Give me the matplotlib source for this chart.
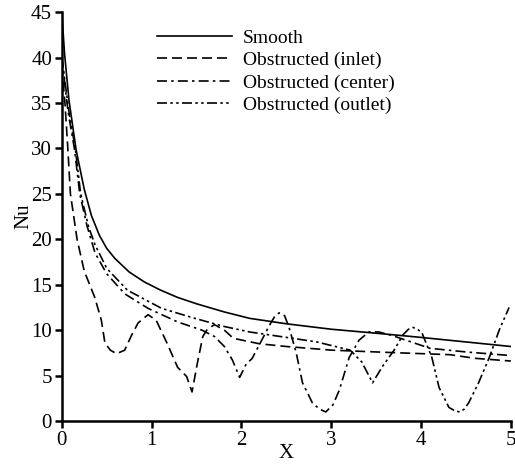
import matplotlib
matplotlib.use("Agg")
import matplotlib.pyplot as plt

plt.rcParams['font.family'] = ['Liberation Serif', 'DejaVu Serif']

# Smooth channel
x_smooth = [0, 0.03, 0.08, 0.16, 0.25, 0.33, 0.42, 0.5, 0.59, 0.75, 0.92, 1.1, 1.29, 1.5,
            1.81, 2.09, 2.5, 3.0, 3.57, 4.0, 4.5, 5.0]
nu_smooth = [45, 40.5, 35.3, 29.8, 25.5, 22.6, 20.4, 19.0, 17.9, 16.4, 15.3, 14.4, 13.6, 12.9,
             12.0, 11.3, 10.7, 10.1, 9.6, 9.2, 8.7, 8.2]

# Obstructed (inlet)
x_inlet = [0, 0.035, 0.067, 0.096, 0.17, 0.25, 0.367, 0.44, 0.48, 0.54, 0.61, 0.7, 0.78,
           0.85, 0.96, 1.05, 1.17, 1.29, 1.39, 1.45, 1.51, 1.57, 1.62, 1.7, 1.81, 1.91,
           2.2, 2.5, 3.0, 3.5, 3.76, 4.32, 4.6, 5.0]
nu_inlet = [39, 35, 30, 25, 20, 16.5, 13.6, 11.1, 8.6, 7.8, 7.4, 7.8, 9.5,
            10.8, 11.7, 11.1, 8.6, 5.9, 4.9, 3.2, 6.4, 9.3, 10.1, 10.6, 10.0, 9.1,
            8.5, 8.2, 7.8, 7.6, 7.5, 7.3, 6.9, 6.6]

# Obstructed (center)
x_center = [0, 0.07, 0.14, 0.2, 0.28, 0.37, 0.5, 0.7, 0.96, 1.29, 1.56, 1.7, 1.81, 1.9,
            1.98, 2.05, 2.12, 2.2, 2.31, 2.37, 2.42, 2.48, 2.53, 2.61, 2.68, 2.79, 2.87,
            2.94, 3.02, 3.09, 3.2, 3.31, 3.42, 3.53, 3.68, 4.1, 4.5, 5.0]
nu_center = [40, 34, 30, 25, 21.5, 18.5, 16.2, 14.0, 12.4, 10.9, 10.0, 9.3, 8.2, 6.7,
             4.8, 6.2, 6.9, 8.4, 10.5, 11.5, 11.9, 11.6, 10.3, 7.5, 4.2, 2.0, 1.3,
             1.0, 1.8, 3.4, 7.0, 8.9, 9.8, 9.8, 9.4, 8.0, 7.6, 7.2]

# Obstructed (outlet)
x_outlet = [0, 0.08, 0.15, 0.21, 0.3, 0.37, 0.5, 0.73, 1.11, 1.48, 1.81, 2.09, 2.57,
            2.84, 3.21, 3.34, 3.46, 3.57, 3.7, 3.8, 3.86, 3.91, 3.96, 4.01, 4.12, 4.2,
            4.31, 4.38, 4.43, 4.48, 4.53, 4.64, 4.76, 4.87, 4.98]
nu_outlet = [40, 34, 30, 25, 21.3, 19.4, 16.8, 14.4, 12.4, 11.3, 10.4, 9.8, 9.1,
             8.7, 7.8, 6.5, 4.2, 6.0, 7.8, 9.5, 10.1, 10.3, 10.1, 9.7, 7.0, 3.7,
             1.5, 1.1, 1.0, 1.3, 2.0, 4.2, 7.0, 10.0, 12.5]

labels = ["Smooth", "Obstructed (inlet)", "Obstructed (center)", "Obstructed (outlet)"]
x_ticks = [0, 1, 2, 3, 4, 5]
y_ticks = [0, 5, 10, 15, 20, 25, 30, 35, 40, 45]

fig = plt.figure(figsize=(5.15, 4.65), dpi=100)
ax = fig.add_axes([0.120, 0.0946, 0.872, 0.8794])

lw = 1.2
ax.plot(x_smooth, nu_smooth, color='black', lw=lw, linestyle='-', label=labels[0])
ax.plot(x_inlet, nu_inlet, color='black', lw=lw, linestyle=(0, (6, 3)), label=labels[1])
ax.plot(x_center, nu_center, color='black', lw=lw, linestyle=(0, (6, 2.5, 1.5, 2.5)), label=labels[2])
ax.plot(x_outlet, nu_outlet, color='black', lw=lw,
        linestyle=(0, (6, 2, 1.5, 2, 1.5, 2)), label=labels[3])

ax.set_xlim(0, 5)
ax.set_ylim(0, 45)
ax.set_xticks(x_ticks)
ax.set_yticks(y_ticks)
for s in ['top', 'right']:
    ax.spines[s].set_visible(False)
for s in ['left', 'bottom']:
    ax.spines[s].set_linewidth(1.8)
ax.tick_params(direction='out', length=5, width=1.8, labelsize=15, pad=2)

ax.set_xlabel("X", fontsize=15, labelpad=-4)
ax.set_ylabel("Nu", fontsize=15, labelpad=-2)

ax.legend(loc='upper left', bbox_to_anchor=(0.194, 0.977), frameon=False, fontsize=14,
          handlelength=3.86, handletextpad=0.56, labelspacing=0.24, borderaxespad=0)

fig.savefig("out.png", dpi=100)
